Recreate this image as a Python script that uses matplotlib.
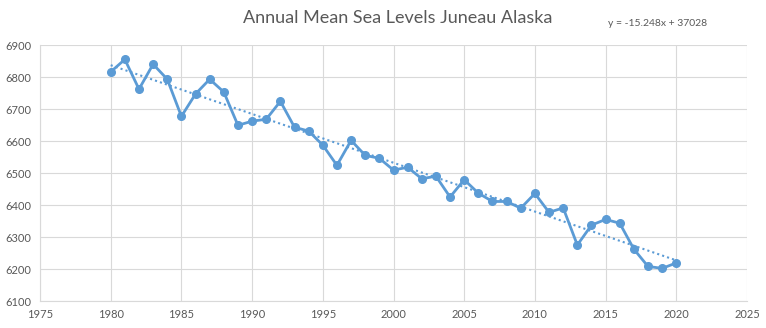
import matplotlib
matplotlib.use("Agg")
import matplotlib.pyplot as plt
import numpy as np

YEARS = list(range(1980, 2021))
LEVELS = [6816, 6855, 6762, 6840, 6793, 6677, 6747, 6793, 6753, 6649,
          6662, 6668, 6724, 6643, 6631, 6587, 6524, 6602, 6555, 6546,
          6509, 6518, 6482, 6490, 6425, 6479, 6437, 6411, 6411, 6390,
          6436, 6377, 6391, 6275, 6337, 6355, 6343, 6262, 6208, 6202,
          6219]
TREND_SLOPE = -15.248
TREND_ICPT = 37028

BLUE = "#5b9bd5"
GRID = "#d9d9d9"
TEXT = "#595959"

plt.rcParams["font.family"] = ["Lato", "DejaVu Sans"]

fig = plt.figure(figsize=(7.66, 3.28), dpi=100)
ax = fig.add_axes([40 / 766, 1 - 301 / 328, 707 / 766, 256 / 328])

ax.plot(YEARS, LEVELS, color=BLUE, linewidth=2, marker="o",
        markersize=5.5, zorder=3)
xs = np.array([YEARS[0], YEARS[-1]])
ax.plot(xs, TREND_SLOPE * xs + TREND_ICPT, color=BLUE, linewidth=1.5,
        linestyle=(0, (1, 1.5)), zorder=2)

ax.set_xlim(1975, 2025)
ax.set_ylim(6100, 6900)
ax.set_xticks(range(1975, 2026, 5))
ax.set_yticks(range(6100, 6901, 100))
ax.grid(color=GRID, linewidth=0.8)
ax.set_axisbelow(True)
for side in ["top", "right"]:
    ax.spines[side].set_visible(False)
for side in ["left", "bottom"]:
    ax.spines[side].set_color(GRID)
ax.tick_params(length=0, colors=TEXT, labelsize=8, pad=6)

fig.text(398 / 766, 1 - 18 / 328, "Annual Mean Sea Levels Juneau Alaska",
         ha="center", va="center", color=TEXT, fontsize=13)
fig.text(658 / 766, 1 - 24 / 328, "y = -15.248x + 37028",
         ha="center", va="center", color=TEXT, fontsize=7.5)

fig.savefig("out.png", dpi=100)
